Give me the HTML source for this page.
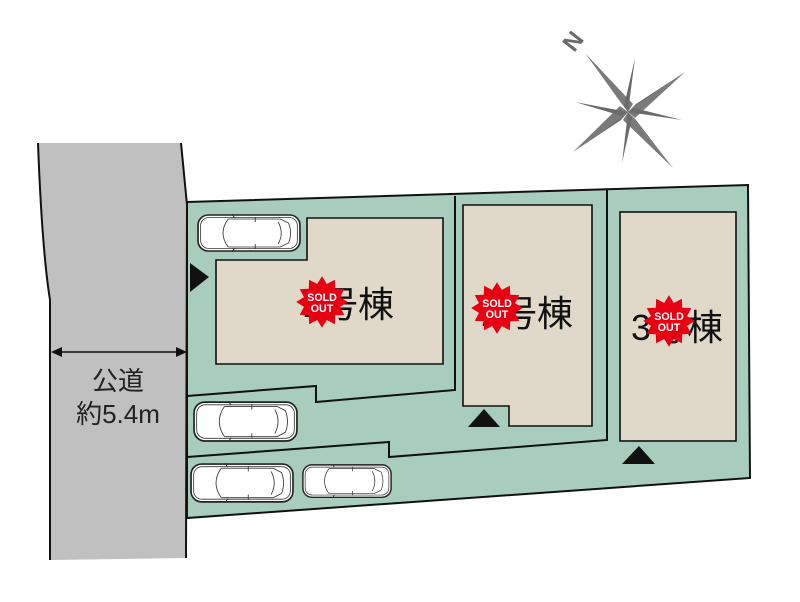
<!DOCTYPE html>
<html><head><meta charset="utf-8"><style>
html,body{margin:0;padding:0;background:#fff;}
svg{display:block;}
text{font-family:"Liberation Sans","Noto Sans CJK JP",sans-serif;}
</style></head><body>
<svg width="800" height="602" viewBox="0 0 800 602" xmlns="http://www.w3.org/2000/svg">
<defs>
<g id="car">
<rect x="1" y="1" width="98" height="36" rx="10" fill="#fff" stroke="#222" stroke-width="1.6"/>
<rect x="3.5" y="3.5" width="93" height="31" rx="8" fill="none" stroke="#333" stroke-width="0.8"/>
<path d="M30 5 Q20 19 30 33" fill="none" stroke="#333" stroke-width="0.8"/>
<path d="M30 5 L80 5 L88 9 Q92 19 88 29 L80 33 L30 33" fill="none" stroke="#333" stroke-width="0.8"/>
<path d="M78 8 Q84 19 78 30" fill="none" stroke="#333" stroke-width="0.8"/>
<line x1="56" y1="3" x2="56" y2="8" stroke="#333" stroke-width="0.8"/>
<line x1="56" y1="30" x2="56" y2="35" stroke="#333" stroke-width="0.8"/>
<path d="M34 0 L36 4 M34 38 L36 34" stroke="#333" stroke-width="1"/>
</g>
<g id="sold">
<polygon points="0,-23 4.3,-16.1 11.5,-19.9 11.8,-11.8 19.9,-11.5 16.1,-4.3 23,0 16.1,4.3 19.9,11.5 11.8,11.8 11.5,19.9 4.3,16.1 0,23 -4.3,16.1 -11.5,19.9 -11.8,11.8 -19.9,11.5 -16.1,4.3 -23,0 -16.1,-4.3 -19.9,-11.5 -11.8,-11.8 -11.5,-19.9 -4.3,-16.1" fill="#e60012"/>
<text x="0" y="-1" font-size="9.5" font-weight="bold" fill="#fff" text-anchor="middle">SOLD</text>
<text x="0" y="9" font-size="9.5" font-weight="bold" fill="#fff" text-anchor="middle">OUT</text>
</g>
</defs>

<path d="M38 143 L181 143 Q184 175 187 205 L186 558 L50 560 L50 300 Q42 250 38 143 Z" fill="#c0c0c0"/>
<path d="M38 143 Q42 250 50 300 L50 560" fill="none" stroke="#111" stroke-width="2"/>
<path d="M181 143 Q184 175 187 205 L186 558" fill="none" stroke="#111" stroke-width="2"/>

<polygon points="187,202 748,185 750,478 187,518" fill="#a8cdbd" stroke="#111" stroke-width="2"/>
<polyline points="455,196 455,390 316,402 316,386 187,396" fill="none" stroke="#111" stroke-width="2"/>
<polyline points="607,190 607,440 389,457 389,442 187,457" fill="none" stroke="#111" stroke-width="2"/>

<polygon points="307,218 443,218 443,364 216,364 216,260 307,260" fill="#e0d8c8" stroke="#111" stroke-width="1.6"/>
<polygon points="463,205 592,205 592,426 509,426 509,406 463,406" fill="#e0d8c8" stroke="#111" stroke-width="1.6"/>
<rect x="620" y="212" width="116" height="229" fill="#e0d8c8" stroke="#111" stroke-width="1.6"/>

<polygon points="190,263 190,292 209,277" fill="#111"/>
<polygon points="468,427 500,427 484,409" fill="#111"/>
<polygon points="622,464 655,464 639,446" fill="#111"/>

<text x="348" y="317" font-size="36" text-anchor="middle" fill="#111">1号棟</text>
<text x="527" y="326" font-size="36" text-anchor="middle" fill="#111">2号棟</text>
<text x="677" y="340" font-size="36" text-anchor="middle" fill="#111">3号棟</text>
<g transform="translate(322,302) scale(1.12)"><use href="#sold"/></g>
<g transform="translate(497,308) scale(1.12)"><use href="#sold"/></g>
<g transform="translate(669,321) scale(1.12)"><use href="#sold"/></g>

<g transform="translate(197,214) scale(1.04,1)"><use href="#car"/></g>
<g transform="translate(193,401) scale(1.05,1.08)"><use href="#car"/></g>
<g transform="translate(190,463) scale(1.04,1.05)"><use href="#car"/></g>
<g transform="translate(302,464) scale(0.9,0.9)"><use href="#car"/></g>

<line x1="56" y1="352" x2="182" y2="352" stroke="#111" stroke-width="1.5"/>
<polygon points="51,352 62,347 62,357" fill="#111"/>
<polygon points="187,352 176,347 176,357" fill="#111"/>
<text x="118" y="390" font-size="26" text-anchor="middle" fill="#222">公道</text>
<text x="118" y="423" font-size="26" text-anchor="middle" fill="#222">約5.4m</text>

<g fill="#6b6b6b">
<polygon points="628,112 585,53 621,103"/>
<polygon points="628,112 585,53 633,104" fill="#7a7a7a"/>
<polygon points="628,112 673,168 636,120"/>
<polygon points="628,112 673,168 623,120" fill="#7a7a7a"/>
<polygon points="628,112 685,72 636,104"/>
<polygon points="628,112 685,72 635,118" fill="#7a7a7a"/>
<polygon points="628,112 573,152 621,120"/>
<polygon points="628,112 573,152 620,106" fill="#7a7a7a"/>
<polygon points="628,112 635,58 624,106"/>
<polygon points="628,112 682,120 634,108"/>
<polygon points="628,112 622,163 632,118"/>
<polygon points="628,112 575,102 622,116"/>
</g>
<text x="574" y="49" font-size="24" font-weight="bold" fill="#6b6b6b" text-anchor="middle" transform="rotate(-52 574 42)">N</text>
</svg>
</body></html>
